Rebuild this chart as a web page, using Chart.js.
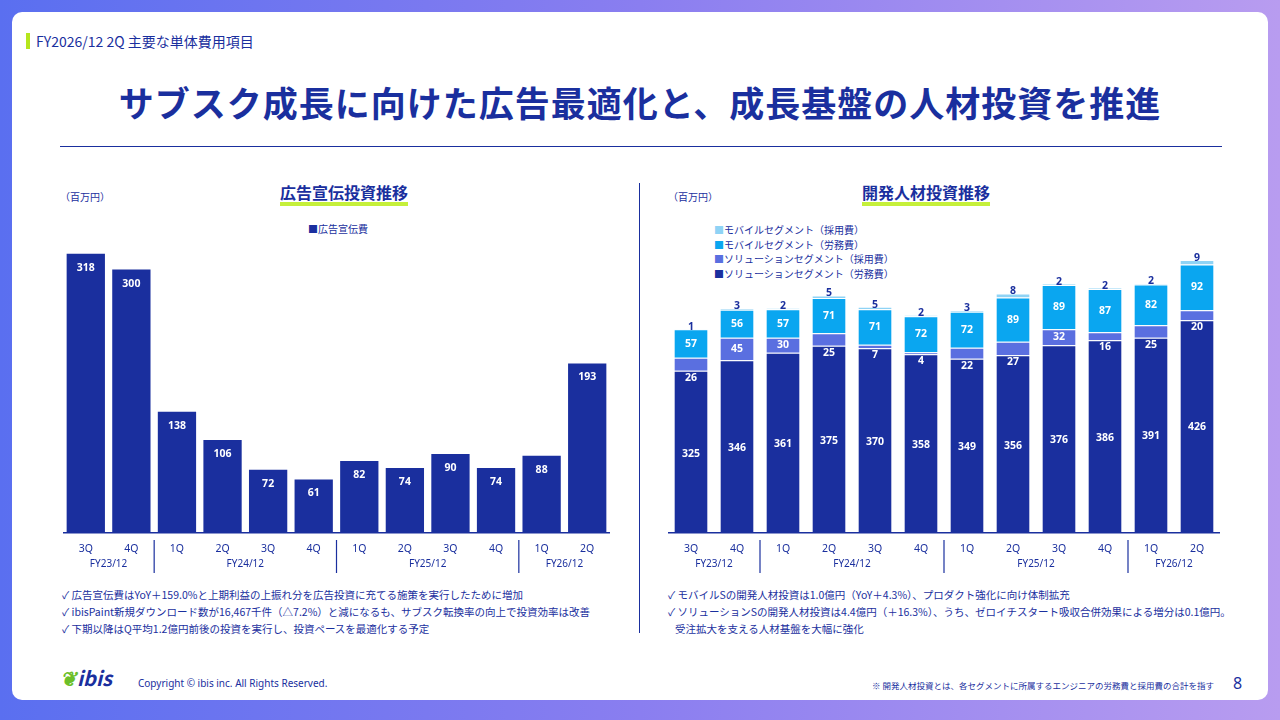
<!DOCTYPE html>
<html><head><meta charset="utf-8">
<script src="https://cdn.jsdelivr.net/npm/chart.js@4.4.1/dist/chart.umd.min.js"></script>
<style>
body{margin:0;width:1280px;height:720px;overflow:hidden;font-family:"Noto Sans CJK JP","Noto Sans",sans-serif;background:linear-gradient(90deg,#5a6ff0,#8a7ef0 50%,#b89cf0);}
.card{position:absolute;left:12px;top:12px;width:1256px;height:688px;background:#fff;border-radius:10px;}
.a{position:absolute;color:#1a2f9e;white-space:nowrap;}
</style></head><body>
<div class="card"></div>
<div class="a" style="left:26px;top:33px;font-size:14px;border-left:4px solid #b5e61d;padding-left:6px;line-height:16px;">FY2026/12 2Q 主要な単体費用項目</div>
<div class="a" style="left:0;width:1280px;text-align:center;top:76px;font-size:35px;font-weight:bold;letter-spacing:1px;">サブスク成長に向けた広告最適化と、成長基盤の人材投資を推進</div>
<div style="position:absolute;left:60px;top:146px;width:1162px;height:1px;background:#1a2f9e"></div>
<div style="position:absolute;left:639px;top:183px;width:1px;height:450px;background:#1a2f9e"></div>
<div class="a" style="left:60px;top:189px;font-size:10px;">（百万円）</div>
<div class="a" style="left:668px;top:189px;font-size:10px;">（百万円）</div>
<div class="a" style="left:280px;top:182px;font-size:16px;font-weight:bold;border-bottom:4px solid #c5f03a;line-height:20px;">広告宣伝投資推移</div>
<div class="a" style="left:862px;top:182px;font-size:16px;font-weight:bold;border-bottom:4px solid #c5f03a;line-height:20px;">開発人材投資推移</div>
<div class="a" style="left:308px;top:221px;font-size:10px;"><span style="color:#1a2f9e">■</span>広告宣伝費</div>
<div class="a" style="left:714px;top:223px;font-size:10px;line-height:14.5px;">
<div><span style="color:#8fd3f5">■</span>モバイルセグメント（採用費）</div>
<div><span style="color:#0aa6f0">■</span>モバイルセグメント（労務費）</div>
<div><span style="color:#5a6fe0">■</span>ソリューションセグメント（採用費）</div>
<div><span style="color:#1a2f9e">■</span>ソリューションセグメント（労務費）</div></div>
<canvas id="c1" style="position:absolute;left:63px;top:230px;width:547px;height:349px"></canvas>
<canvas id="c2" style="position:absolute;left:668px;top:230px;width:552px;height:349px"></canvas>
<div class="a" style="left:62px;top:586px;font-size:10.5px;line-height:17px;">
<div>✓ 広告宣伝費はYoY＋159.0%と上期利益の上振れ分を広告投資に充てる施策を実行したために増加</div>
<div>✓ ibisPaint新規ダウンロード数が16,467千件（△7.2%）と減になるも、サブスク転換率の向上で投資効率は改善</div>
<div>✓ 下期以降はQ平均1.2億円前後の投資を実行し、投資ペースを最適化する予定</div></div>
<div class="a" style="left:668px;top:586px;font-size:10.5px;line-height:17px;">
<div>✓ モバイルSの開発人材投資は1.0億円（YoY＋4.3%）、プロダクト強化に向け体制拡充</div>
<div>✓ ソリューションSの開発人材投資は4.4億円（＋16.3%）、うち、ゼロイチスタート吸収合併効果による増分は0.1億円。</div>
<div>&nbsp;&nbsp;&nbsp;受注拡大を支える人材基盤を大幅に強化</div></div>
<div class="a" style="left:60px;top:663px;font-size:20px;font-style:italic;font-weight:bold;color:#1a2f9e;"><span style="color:#6cbf2a">❦</span>ibis</div>
<div class="a" style="left:138px;top:676px;font-size:10px;font-family:'Noto Sans';">Copyright © ibis inc. All Rights Reserved.</div>
<div class="a" style="left:872px;top:679px;font-size:8.5px;">※ 開発人材投資とは、各セグメントに所属するエンジニアの労務費と採用費の合計を指す</div>
<div class="a" style="left:1233px;top:672px;font-size:16px;font-family:'Noto Sans';">8</div>
<script>
const quarters=["3Q","4Q","1Q","2Q","3Q","4Q","1Q","2Q","3Q","4Q","1Q","2Q"];
const fiscalYears=[["FY23/12",0,1],["FY24/12",2,5],["FY25/12",6,9],["FY26/12",10,11]];
const adCost=[318,300,138,106,72,61,82,74,90,74,88,193];
const solLabor=[325,346,361,375,370,358,349,356,376,386,391,426];
const solRecruit=[26,45,30,25,7,4,22,27,32,16,25,20];
const mobLabor=[57,56,57,71,71,72,72,89,89,87,82,92];
const mobRecruit=[1,3,2,5,5,2,3,8,2,2,2,9];
const DARK="#1a2f9e";
const F="'Noto Sans', sans-serif";
const fyPlugin={id:'fy',afterDraw(ch){const c=ch.ctx,x=ch.scales.x,b=ch.chartArea.bottom;c.save();c.fillStyle=DARK;c.font="10px "+F;c.textAlign='center';c.textBaseline='middle';
 fiscalYears.forEach(([n,s,e],i)=>{const xs=x.getPixelForValue(s),xe=x.getPixelForValue(e);c.fillText(n,(xs+xe)/2,b+31);
 if(i>0){const sep=(x.getPixelForValue(s-1)+xs)/2;c.strokeStyle=DARK;c.lineWidth=1.2;c.beginPath();c.moveTo(sep,b+7);c.lineTo(sep,b+40);c.stroke();}});c.restore();}};
const labelPlugin={id:'lbl',afterDatasetsDraw(ch){const c=ch.ctx;c.save();c.font="bold 10.5px "+F;c.textAlign='center';c.textBaseline='middle';
 ch.data.datasets.forEach((ds,di)=>{ch.getDatasetMeta(di).data.forEach((bar,i)=>{const v=ds.data[i];const h=bar.base-bar.y;let y,col='#fff';
  if(ch.canvas.id==='c1'){y=bar.y+14;}
  else if(di===3){y=bar.y-2;col=DARK;}
  else if(di===1&&h<14){y=bar.base+7;}
  else if(di===0){y=bar.y+h*0.48+5;}
  else y=bar.y+h/2;
  c.fillStyle=col;c.fillText(v,bar.x,y);});});c.restore();}};
function xs(){return {grid:{display:false},border:{display:true,color:DARK,width:1.5},ticks:{color:DARK,font:{size:10.5,family:F},padding:2},afterFit(s){s.height=46;}};}
Chart.defaults.animation=false;
new Chart(document.getElementById('c1'),{type:'bar',data:{labels:quarters,datasets:[{data:adCost,backgroundColor:DARK,categoryPercentage:0.84,barPercentage:1}]},
 options:{responsive:false,maintainAspectRatio:false,layout:{padding:0},plugins:{legend:{display:false},tooltip:{enabled:false}},
 scales:{x:xs(),y:{display:false,min:0,max:345}}},plugins:[fyPlugin,labelPlugin]});
new Chart(document.getElementById('c2'),{type:'bar',data:{labels:quarters,datasets:[
 {data:solLabor,backgroundColor:DARK},{data:solRecruit,backgroundColor:"#5a6fe0"},{data:mobLabor,backgroundColor:"#0aa6f0"},{data:mobRecruit,backgroundColor:"#8fd3f5"}].map(d=>Object.assign(d,{categoryPercentage:0.72,barPercentage:1,borderColor:'#fff',borderWidth:{top:1}}))},
 options:{responsive:false,maintainAspectRatio:false,layout:{padding:0},plugins:{legend:{display:false},tooltip:{enabled:false}},
 scales:{x:Object.assign(xs(),{stacked:true}),y:{display:false,stacked:true,min:0,max:607}}},plugins:[fyPlugin,labelPlugin]});
</script></body></html>
